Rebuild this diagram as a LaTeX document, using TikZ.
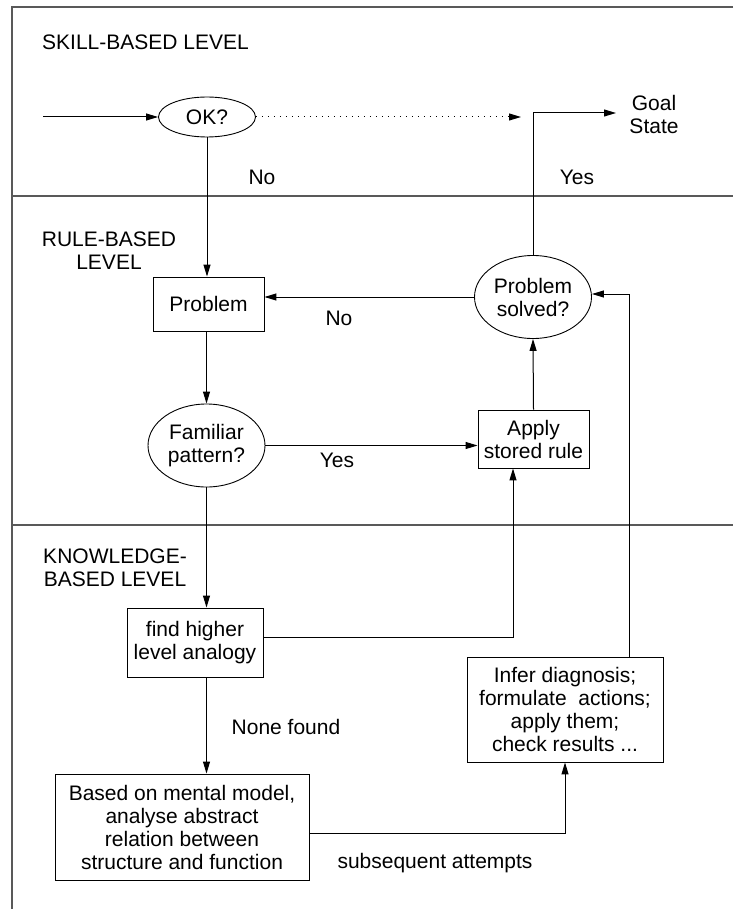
\documentclass[tikz,border=0pt]{standalone}
\usepackage{fontspec}
\setmainfont{Liberation Sans}
\usetikzlibrary{arrows.meta,shapes.geometric}
\begin{document}
\begin{tikzpicture}[x=1pt,y=-1pt,
  every node/.style={font=\fontsize{21}{23}\selectfont, inner sep=0pt, align=center},
  box/.style={draw, line width=0.9pt, rectangle},
  oval/.style={draw, line width=0.9pt, ellipse},
  frame/.style={line width=1.4pt, draw=black!65},
  conn/.style={line width=1pt},
  arr/.style={conn, -{Triangle[length=12pt,width=7pt]}},
  lbl/.style={}
]
\useasboundingbox (0,0) rectangle (733,909);
% frame
\draw[frame] (733,7) -- (12,7) -- (12,909);
\draw[frame] (12,196) -- (733,196);
\draw[frame] (12,525) -- (733,525);

% level titles
\node[lbl, anchor=west] (skill) at (42,42) {SKILL-BASED LEVEL};
\node[lbl] (rule) at (109,251) {RULE-BASED\\LEVEL};
\node[lbl] (know) at (115,568) {KNOWLEDGE-\\BASED LEVEL};

% nodes
\node[oval, minimum width=97pt, minimum height=40pt] (ok) at (207,117) {OK?};
\node[lbl] (goal) at (654,114) {Goal\\State};
\node[box, minimum width=111pt, minimum height=54pt] (problem) at (208.5,304) {Problem};
\node[oval, minimum width=117pt, minimum height=83pt] (solved) at (533,297) {Problem\\solved?};
\node[oval, minimum width=117pt, minimum height=83pt] (familiar) at (206.5,445.5) {Familiar\\pattern?};
\node[box, minimum width=111pt, minimum height=58pt] (apply) at (533.5,439) {Apply\\stored rule};
\node[box, minimum width=136pt, minimum height=69pt] (find) at (195,642.5) {find higher\\level analogy};
\node[box, minimum width=196pt, minimum height=105pt] (infer) at (565,709.5) {Infer diagnosis;\\formulate\ \ actions;\\apply them;\\check results ...};
\node[box, minimum width=254pt, minimum height=106pt] (based) at (182,827) {Based on mental model,\\analyse abstract\\relation between\\structure and function};

% free ends
\coordinate (start) at (43,117);
\coordinate (dotend) at (521,117);
\coordinate (goalend) at (616,113);

% connectors
\draw[arr] (start) -- (ok.west);
\draw[arr, dash pattern=on 1pt off 5pt] (ok.east) -- (dotend);
\draw[arr] (ok.south) -- (ok.south |- problem.north);
\draw[arr] (solved.north) |- (goalend);
\draw[arr] (solved.west) -- (solved.west -| problem.east);
\draw[arr] (familiar.north |- problem.south) -- (familiar.north);
\draw[arr] (familiar.east) -- (familiar.east -| apply.west);
\draw[arr] (apply.north) -- (solved.south);
\draw[arr] (familiar.south) -- (familiar.south |- find.north);
\draw[arr] ([yshift=5.5pt]find.east) -| ([xshift=-20.5pt]apply.south);
\draw[arr] ([xshift=64pt]infer.north) |- ([yshift=3pt]solved.east);
\draw[arr] (familiar.south |- find.south) -- (familiar.south |- based.north);
\draw[arr] ([yshift=-6pt]based.east) -| (infer.south);

% labels
\node[lbl] (no1) at (262,177) {No};
\node[lbl] (yes1) at (577,177) {Yes};
\node[lbl] (no2) at (339,318) {No};
\node[lbl] (yes2) at (337,460) {Yes};
\node[lbl] (none) at (286,727) {None found};
\node[lbl] (subs) at (435,863) {subsequent attempts};
\end{tikzpicture}
\end{document}
